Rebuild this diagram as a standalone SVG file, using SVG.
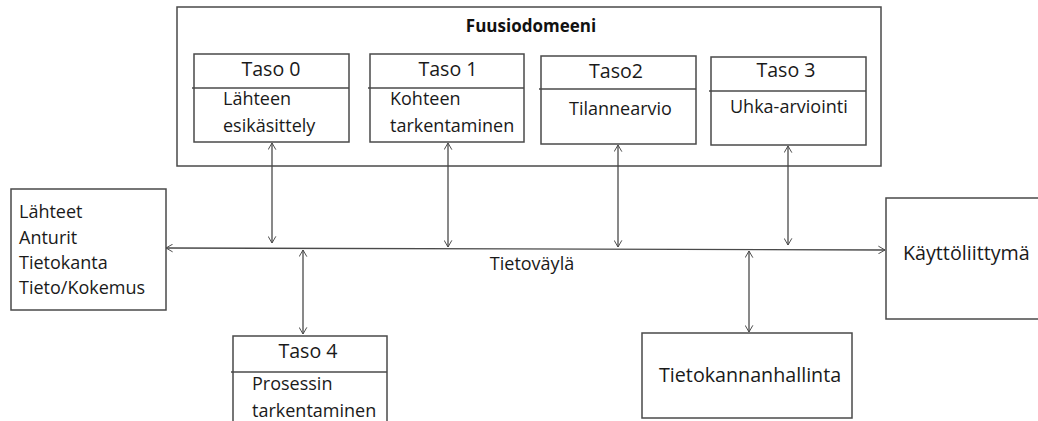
<svg xmlns="http://www.w3.org/2000/svg" width="1038" height="421" viewBox="0 0 1038 421">
  <style>
    .box { fill: #ffffff; stroke: #4a4a4a; stroke-width: 1.5; }
    .div { stroke: #4a4a4a; stroke-width: 1.3; }
    .wire { stroke: #4a4a4a; stroke-width: 1.3; fill: none; marker-start: url(#tip); marker-end: url(#tip); }
    .lbl { font-family: "Open Sans", "DejaVu Sans", sans-serif; font-size: 18px; fill: #1a1a1a; }
    .big { font-size: 19.7px; }
    .head { font-family: "Open Sans", "DejaVu Sans", sans-serif; font-size: 19.6px; fill: #1a1a1a; text-anchor: middle; }
    .title { font-family: "Open Sans", "DejaVu Sans", sans-serif; font-size: 17px; font-weight: bold; fill: #111111; text-anchor: middle; }
  </style>
  <defs>
    <marker id="tip" viewBox="0 0 10 12" refX="10" refY="6" markerWidth="7" markerHeight="9" orient="auto-start-reverse" markerUnits="userSpaceOnUse">
      <path d="M0.5,0.5 L10,6 L0.5,11.5" fill="none" stroke="#4a4a4a" stroke-width="1.4"/>
    </marker>
  </defs>
  <rect width="1038" height="421" fill="#ffffff"/>

  <!-- fusion domain container -->
  <g id="fuusiodomeeni">
    <rect class="box" x="177" y="7" width="704" height="159"/>
    <text class="title" x="531" y="32">Fuusiodomeeni</text>
  </g>

  <g id="taso0">
    <rect class="box" x="194" y="54" width="155" height="88"/>
    <line class="div" x1="192" y1="88" x2="349" y2="88"/>
    <text class="head" x="271" y="76">Taso 0</text>
    <text class="lbl" x="223" y="105">Lähteen</text>
    <text class="lbl" x="223" y="132">esikäsittely</text>
  </g>

  <g id="taso1">
    <rect class="box" x="370" y="54" width="154" height="88"/>
    <line class="div" x1="368" y1="88" x2="524" y2="88"/>
    <text class="head" x="448" y="76">Taso 1</text>
    <text class="lbl" x="390" y="105">Kohteen</text>
    <text class="lbl" x="390" y="132">tarkentaminen</text>
  </g>

  <g id="taso2">
    <rect class="box" x="541" y="56" width="155" height="88"/>
    <line class="div" x1="539" y1="89" x2="696" y2="89"/>
    <text class="head" x="616" y="78">Taso2</text>
    <text class="lbl" x="569" y="115">Tilannearvio</text>
  </g>

  <g id="taso3">
    <rect class="box" x="711" y="57" width="155" height="88"/>
    <line class="div" x1="709" y1="91" x2="866" y2="91"/>
    <text class="head" x="786" y="77">Taso 3</text>
    <text class="lbl" x="730" y="113">Uhka-arviointi</text>
  </g>

  <g id="lahteet">
    <rect class="box" x="11" y="189" width="155" height="121"/>
    <text class="lbl" x="19" y="218">Lähteet</text>
    <text class="lbl" x="19" y="244">Anturit</text>
    <text class="lbl" x="19" y="269">Tietokanta</text>
    <text class="lbl" x="19" y="294">Tieto/Kokemus</text>
  </g>

  <g id="taso4">
    <rect class="box" x="233" y="336" width="154" height="100"/>
    <line class="div" x1="231" y1="372" x2="387" y2="372"/>
    <text class="head" x="308" y="358">Taso 4</text>
    <text class="lbl" x="252" y="390">Prosessin</text>
    <text class="lbl" x="252" y="417">tarkentaminen</text>
  </g>

  <g id="tietokannanhallinta">
    <rect class="box" x="642" y="333" width="210" height="85"/>
    <text class="lbl big" x="659" y="382">Tietokannanhallinta</text>
  </g>

  <g id="kayttoliittyma">
    <rect class="box" x="886" y="198" width="160" height="121"/>
    <text class="lbl big" x="903" y="260">Käyttöliittymä</text>
  </g>

  <!-- bus and links -->
  <g id="connectors">
    <line class="wire" x1="166" y1="248" x2="885" y2="250"/>
    <line class="wire" x1="272" y1="143" x2="272" y2="243"/>
    <line class="wire" x1="448" y1="143" x2="448" y2="247"/>
    <line class="wire" x1="618" y1="145" x2="618" y2="247"/>
    <line class="wire" x1="788" y1="146" x2="788" y2="245"/>
    <line class="wire" x1="303" y1="250" x2="303" y2="334"/>
    <line class="wire" x1="749" y1="251" x2="749" y2="332"/>
    <text class="lbl" x="532" y="270" text-anchor="middle">Tietoväylä</text>
  </g>
</svg>
